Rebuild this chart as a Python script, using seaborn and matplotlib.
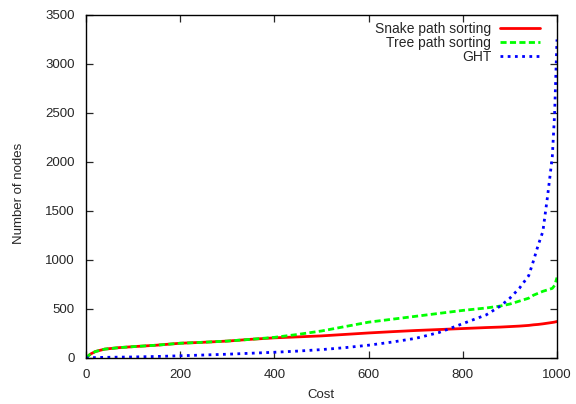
import numpy as np
import pandas as pd
import matplotlib
matplotlib.use("Agg")
import matplotlib.pyplot as plt
import seaborn as sns

cost = [0, 10, 20, 40, 70, 100, 150, 200, 250, 300, 350, 400, 450, 500, 550, 600,
        650, 700, 750, 800, 850, 880, 900, 920, 940, 950, 960, 970, 980, 990, 995, 1000]
snake = [0, 40, 65, 90, 105, 115, 130, 150, 160, 172, 190, 205, 215, 225, 240, 255,
         268, 280, 290, 300, 310, 315, 320, 325, 332, 338, 342, 348, 355, 362, 366, 372]
tree = [0, 40, 65, 90, 105, 115, 130, 150, 160, 172, 190, 210, 240, 275, 320, 365,
        395, 425, 455, 485, 510, 530, 550, 580, 610, 640, 660, 680, 695, 710, 740, 820]
ght = [0, 2, 4, 6, 8, 10, 15, 22, 30, 38, 48, 58, 70, 85, 105, 130,
       162, 200, 260, 350, 440, 530, 610, 710, 840, 990, 1150, 1290, 1650, 2050, 2500, 3250]
series_names = ["Snake path sorting", "Tree path sorting", "GHT"]

df = pd.DataFrame({
    "Cost": cost * 3,
    "Nodes": snake + tree + ght,
    "Method": [series_names[0]] * len(cost) + [series_names[1]] * len(cost) + [series_names[2]] * len(cost),
})

sns.set_style("ticks")
plt.rcParams["font.family"] = ["Liberation Sans", "DejaVu Sans"]
FS = 9.5

fig = plt.figure(figsize=(5.76, 4.04), dpi=100)
ax = fig.add_axes([0.149, 0.114, 0.818, 0.849])

palette = {series_names[0]: "#ff0000", series_names[1]: "#00ff00", series_names[2]: "#0000ff"}
dashes = {series_names[0]: "", series_names[1]: (2.2, 1.2), series_names[2]: (1.0, 1.6)}
sns.lineplot(data=df, x="Cost", y="Nodes", hue="Method", style="Method",
             palette=palette, dashes=dashes, linewidth=2, ax=ax, estimator=None)

ax.set_xlim(0, 1000)
ax.set_ylim(0, 3500)
ax.set_xticks(range(0, 1001, 200))
ax.set_yticks(range(0, 3501, 500))
ax.set_xlabel("Cost", fontsize=FS, labelpad=6)
ax.set_ylabel("Number of nodes", fontsize=FS)
ax.yaxis.set_label_coords((25 - 86) / 471, (358 - 193) / 343)
ax.tick_params(direction="in", length=5, width=0.9, top=True, right=True, labelsize=FS)
ax.tick_params(axis="y", pad=8)
ax.tick_params(axis="x", pad=8)
for s in ax.spines.values():
    s.set_visible(True)
    s.set_linewidth(1.0)
    s.set_color("black")

handles, labels = ax.get_legend_handles_labels()
leg = ax.legend(handles, labels, loc="upper right", frameon=False, markerfirst=False,
                fontsize=10, handlelength=2.9, labelspacing=0.0, borderaxespad=0.0,
                borderpad=0.0, handletextpad=0.6,
                bbox_to_anchor=((540 - 86) / 471, (358 - 22) / 343))
for t in leg.get_texts():
    t.set_ha("right")

fig.savefig("out.png", dpi=100)
